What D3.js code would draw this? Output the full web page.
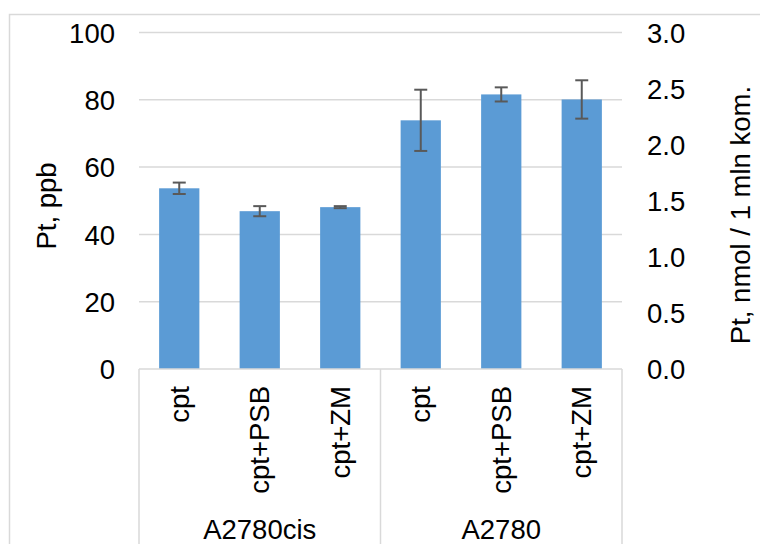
<!DOCTYPE html>
<html>
<head>
<meta charset="utf-8">
<script src="https://cdn.jsdelivr.net/npm/d3@7"></script>
<style>
  html, body { margin: 0; padding: 0; background: #fff; }
  svg text { font-family: "Liberation Sans", Arial, sans-serif; fill: #000; }
</style>
</head>
<body>
<svg id="BarChart" width="760" height="544"></svg>
<script>
// data
var groups = ['A2780cis', 'A2780'];
var treatments = ['cpt', 'cpt+PSB', 'cpt+ZM'];
var means = [53.7, 46.9, 48.1, 73.9, 81.6, 80.1];
var errors = [1.7, 1.5, 0.3, 9.1, 2.1, 5.7];
var leftTicks = [0, 20, 40, 60, 80, 100];
var rightTicks = [0, 0.5, 1.0, 1.5, 2.0, 2.5, 3.0];

var svg = d3.select('#BarChart');

var plotLeft = 139, plotRight = 622, plotTop = 32.5, plotBottom = 369;
var grey = '#d9d9d9';
var fs = '27.5px';

// one row per bar, group + treatment
var rows = [];
groups.forEach(function (g, gi) {
  treatments.forEach(function (t, ti) {
    var i = gi * treatments.length + ti;
    rows.push({ key: g + '|' + t, group: g, label: t, value: means[i], err: errors[i] });
  });
});

var x = d3.scaleBand()
  .domain(rows.map(d => d.key))
  .range([plotLeft, plotRight])
  .paddingInner(0.5)
  .paddingOuter(0.25);

var y = d3.scaleLinear().domain([0, 100]).range([plotBottom, plotTop]);
var y2 = d3.scaleLinear().domain([0, 3]).range([plotBottom, plotTop]);

// outer chart frame
svg.append('rect')
  .attr('x', 9.5).attr('y', 14.5)
  .attr('width', 800).attr('height', 600)
  .attr('fill', 'none').attr('stroke', grey).attr('stroke-width', 1.5);

// gridlines
svg.append('g').selectAll('line')
  .data(leftTicks.filter(d => d > 0))
  .join('line')
  .attr('x1', plotLeft).attr('x2', plotRight)
  .attr('y1', d => y(d)).attr('y2', d => y(d))
  .attr('stroke', grey).attr('stroke-width', 1.5);

// left axis labels
var yAxis = d3.axisLeft(y).tickValues(leftTicks).tickSize(0).tickPadding(24);
svg.append('g')
  .attr('transform', 'translate(' + plotLeft + ',0)')
  .call(yAxis)
  .call(g => g.select('.domain').remove())
  .call(g => g.attr('font-family', null).attr('font-size', null))
  .selectAll('text').style('font-size', fs).attr('dy', '0.35em');

// right axis labels
var yAxis2 = d3.axisRight(y2).tickValues(rightTicks).tickSize(0).tickPadding(25)
  .tickFormat(d3.format('.1f'));
svg.append('g')
  .attr('transform', 'translate(' + plotRight + ',0)')
  .call(yAxis2)
  .call(g => g.select('.domain').remove())
  .call(g => g.attr('font-family', null).attr('font-size', null))
  .selectAll('text').style('font-size', fs).attr('dy', '0.35em');

// bars
svg.append('g').selectAll('rect')
  .data(rows)
  .join('rect')
  .attr('x', d => x(d.key))
  .attr('y', d => y(d.value))
  .attr('width', x.bandwidth())
  .attr('height', d => y(0) - y(d.value))
  .attr('fill', '#5b9bd5');

// error bars
var eb = svg.append('g').attr('stroke', '#595959').attr('stroke-width', 2);
rows.forEach(function (d) {
  var cx = x(d.key) + x.bandwidth() / 2;
  eb.append('line')
    .attr('x1', cx).attr('x2', cx)
    .attr('y1', y(d.value + d.err)).attr('y2', y(d.value - d.err));
  [d.value + d.err, d.value - d.err].forEach(function (v) {
    eb.append('line')
      .attr('x1', cx - 6.5).attr('x2', cx + 6.5)
      .attr('y1', y(v)).attr('y2', y(v));
  });
});

// category axis line and group dividers
svg.append('line')
  .attr('x1', plotLeft).attr('x2', plotRight)
  .attr('y1', plotBottom).attr('y2', plotBottom)
  .attr('stroke', grey).attr('stroke-width', 1.5);

var dividers = [plotLeft, x(rows[treatments.length].key) - x.step() * x.paddingInner() / 2, plotRight];
svg.append('g').selectAll('line')
  .data(dividers)
  .join('line')
  .attr('x1', d => d).attr('x2', d => d)
  .attr('y1', plotBottom).attr('y2', 560)
  .attr('stroke', grey).attr('stroke-width', 1.5);

// rotated treatment labels
svg.append('g').selectAll('text')
  .data(rows)
  .join('text')
  .attr('transform', d => 'translate(' + (x(d.key) + x.bandwidth() / 2) + ',386) rotate(-90)')
  .attr('dy', '0.35em')
  .style('text-anchor', 'end')
  .style('font-size', fs)
  .text(d => d.label);

// group labels
svg.append('g').selectAll('text')
  .data(groups)
  .join('text')
  .attr('x', (d, i) => (dividers[i] + dividers[i + 1]) / 2)
  .attr('y', 539)
  .style('text-anchor', 'middle')
  .style('font-size', fs)
  .text(d => d);

// axis titles
svg.append('text')
  .attr('transform', 'translate(46,206) rotate(-90)')
  .attr('dy', '0.35em')
  .style('text-anchor', 'middle')
  .style('font-size', fs)
  .text('Pt, ppb');

svg.append('text')
  .attr('transform', 'translate(740,215) rotate(-90)')
  .attr('dy', '0.35em')
  .style('text-anchor', 'middle')
  .style('font-size', fs)
  .text('Pt, nmol / 1 mln kom.');
</script>
</body>
</html>
